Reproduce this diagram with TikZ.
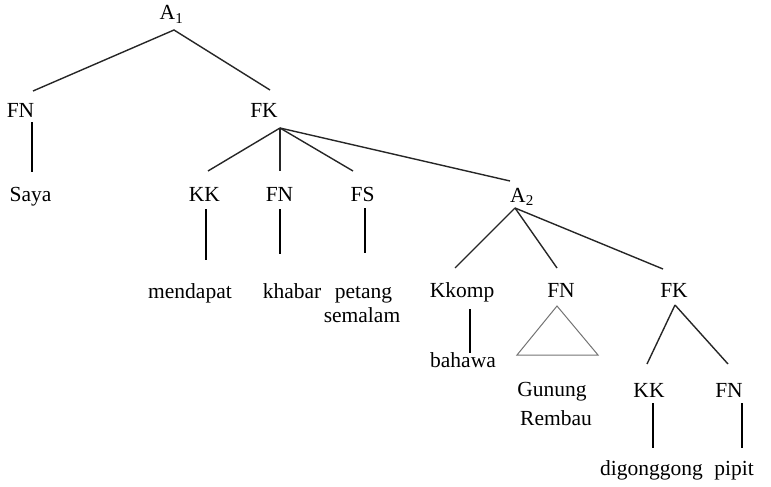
\documentclass[tikz,border=0pt]{standalone}
\usepackage{fontspec}
\setmainfont{Liberation Serif}
\begin{document}
\begin{tikzpicture}[x=1pt,y=-1pt,
  lbl/.style={anchor=base,inner sep=0pt,font=\fontsize{21.5}{24}\selectfont},
  branch/.style={line width=1.4pt,black!85},
  stem/.style={line width=2pt,black},
  tri/.style={line width=1pt,black!55}]
\useasboundingbox (0,0) rectangle (771,487);
% labels
\node[lbl] (A1) at (171.5,20) {A\textsubscript{1}};
\node[lbl] (FN1) at (20.5,117) {FN};
\node[lbl] (Saya) at (30.5,201) {Saya};
\node[lbl] (FK1) at (264,117) {FK};
\node[lbl] (KK1) at (204.5,201) {KK};
\node[lbl] (FN2) at (279.5,201) {FN};
\node[lbl] (FS) at (362.5,201) {FS};
\node[lbl] (A2) at (522,202) {A\textsubscript{2}};
\node[lbl] (mendapat) at (190,298) {mendapat};
\node[lbl] (khabar) at (292,298) {khabar};
\node[lbl] (petang) at (363.5,298) {petang};
\node[lbl] (semalam) at (362,322) {semalam};
\node[lbl] (Kkomp) at (462,297) {Kkomp};
\node[lbl] (FN3) at (561,297) {FN};
\node[lbl] (FK2) at (674,297) {FK};
\node[lbl] (bahawa) at (463,367) {bahawa};
\node[lbl] (Gunung) at (552,396) {Gunung};
\node[lbl] (Rembau) at (556,425) {Rembau};
\node[lbl] (KK2) at (649,397) {KK};
\node[lbl] (FN4) at (729,397) {FN};
\node[lbl] (digonggong) at (651.5,475) {digonggong};
\node[lbl] (pipit) at (734,475) {pipit};
% branches
\draw[branch] ([shift={(12.5,-26)}]FN1.base) -- ([shift={(2.5,10)}]A1.base) -- ([shift={(6,-27)}]FK1.base);
\draw[branch] ([shift={(16,11)}]FK1.base) -- ([shift={(3.5,-30)}]KK1.base);
\draw[branch] ([shift={(16,11)}]FK1.base) -- ([shift={(0.5,-30)}]FN2.base);
\draw[branch] ([shift={(16,11)}]FK1.base) -- ([shift={(-9.5,-30)}]FS.base);
\draw[branch] ([shift={(16,11)}]FK1.base) -- ([shift={(-12,-21)}]A2.base);
\draw[branch] ([shift={(-7,6)}]A2.base) -- ([shift={(-7,-29)}]Kkomp.base);
\draw[branch] ([shift={(-7,6)}]A2.base) -- ([shift={(-4,-29)}]FN3.base);
\draw[branch] ([shift={(-7,6)}]A2.base) -- ([shift={(-11,-28)}]FK2.base);
\draw[branch] ([shift={(1,8)}]FK2.base) -- ([shift={(-2,-33)}]KK2.base);
\draw[branch] ([shift={(1,8)}]FK2.base) -- ([shift={(-1,-33)}]FN4.base);
% stems
\draw[stem] ([shift={(11.5,5)}]FN1.base) -- ([shift={(1.5,-29)}]Saya.base);
\draw[stem] ([shift={(1.5,8)}]KK1.base) -- ([shift={(16,-38)}]mendapat.base);
\draw[stem] ([shift={(0.5,8)}]FN2.base) -- ([shift={(-12,-44)}]khabar.base);
\draw[stem] ([shift={(2.5,7)}]FS.base) -- ([shift={(1.5,-45)}]petang.base);
\draw[stem] ([shift={(8,12)}]Kkomp.base) -- ([shift={(7,-14)}]bahawa.base);
\draw[stem] ([shift={(4,6)}]KK2.base) -- ([shift={(1.5,-27)}]digonggong.base);
\draw[stem] ([shift={(13,6)}]FN4.base) -- ([shift={(8,-27)}]pipit.base);
% triangle
\draw[tri] ([shift={(-4,9)}]FN3.base) -- ([shift={(-44,58)}]FN3.base) -- ([shift={(37,58)}]FN3.base) -- cycle;
\end{tikzpicture}
\end{document}
